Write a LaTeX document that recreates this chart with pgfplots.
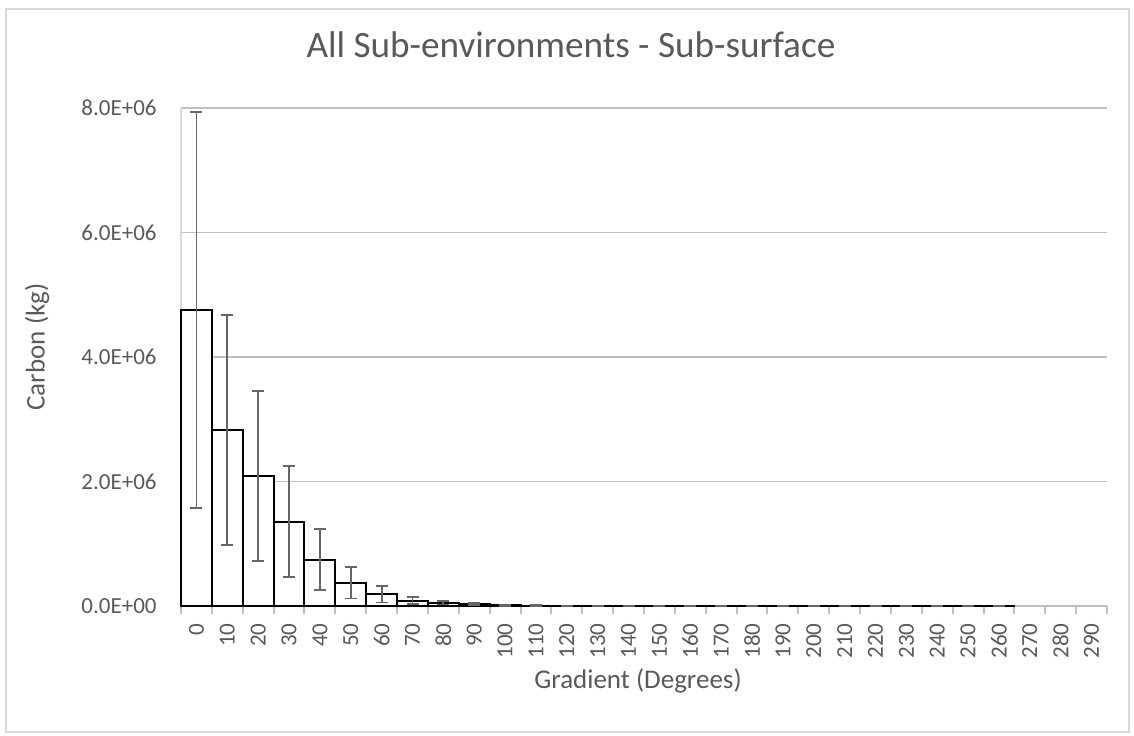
\documentclass[border=0pt]{standalone}
\usepackage{pgfplots}
\pgfplotsset{compat=1.18}
\usepackage{pgfplotstable}
\usepackage{fontspec}
\setmainfont{Carlito}
\definecolor{txt}{HTML}{595959}
\definecolor{grid}{HTML}{D9D9D9}
\definecolor{axl}{HTML}{BFBFBF}
\definecolor{errc}{HTML}{666666}

\pgfplotstableread{
x  y       e
0  4750000 3180000
1  2830000 1850000
2  2090000 1370000
3  1355000 890000
4  745000  490000
5  375000  253000
6  185000  130000
7  88000   62000
8  52000   28000
9  26000   16000
10 13000   8000
11 7000    4000
12 4000    2500
13 2500    1500
14 1500    1000
15 1000    700
16 700     500
17 500     350
18 400     250
19 300     200
20 250     150
21 200     120
22 150     100
23 120     80
24 100     60
25 80      50
26 60      40
}\datatable

\begin{document}
\begin{tikzpicture}[x=1pt,y=1pt]
\useasboundingbox (0,0) rectangle (567,367.5);
\draw[grid, line width=0.75pt] (3,1.5) rectangle (564.5,363);
\begin{axis}[
  at={(90.5pt,64.5pt)}, anchor=south west,
  scale only axis, width=463pt, height=249pt,
  xmin=-0.5, xmax=29.5, ymin=0, ymax=8000000,
  clip=false,
  axis line style={draw=none},
  xtick pos=bottom, ytick pos=left,
  xtick={0,...,29},
  xticklabels={0,10,20,30,40,50,60,70,80,90,100,110,120,130,140,150,160,170,180,190,200,210,220,230,240,250,260,270,280,290},
  minor xtick={-0.5,0.5,...,29.5},
  xmajorgrids=false, xminorgrids=false, yminorgrids=false,
  major tick length=0pt,
  minor tick length=3.75pt,
  tick align=outside,
  minor tick style={axl, line width=1pt},
  xticklabel style={rotate=90, anchor=east, inner sep=0pt, font=\fontsize{11.5}{13}\selectfont, text=txt, xshift=-8.5pt},
  ytick={0,2000000,4000000,6000000,8000000},
  yticklabels={0.0E+00,2.0E+06,4.0E+06,6.0E+06,8.0E+06},
  yticklabel style={anchor=east, inner sep=0pt, font=\fontsize{11.5}{13}\selectfont, text=txt, xshift=-12pt},
  ymajorgrids, major grid style={grid, line width=0.75pt},
  scaled y ticks=false,
]
\draw[grid, line width=0.75pt] (axis cs:-0.5,0) -- (axis cs:-0.5,8000000);
\draw[axl, line width=1pt] (axis cs:-0.5,0) -- (axis cs:29.5,0);
\addplot[ybar, bar width=1, fill=white, draw=black, line width=1pt,
  error bars/.cd, y dir=both, y explicit,
  error bar style={errc, line width=0.9pt},
  error mark options={errc, rotate=90, mark size=3pt, line width=0.9pt}]
  table[x=x, y=y, y error=e] {\datatable};
\end{axis}
\node[text=txt, font=\fontsize{18.6}{21}\selectfont] at (285.5,345) {All Sub-environments - Sub-surface};
\node[text=txt, font=\fontsize{13.5}{15}\selectfont, rotate=90] at (18.5,194) {Carbon (kg)};
\node[text=txt, font=\fontsize{13.5}{15}\selectfont] at (319,27) {Gradient (Degrees)};
\end{tikzpicture}
\end{document}
